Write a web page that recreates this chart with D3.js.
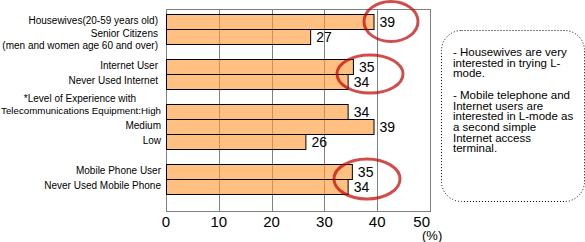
<!DOCTYPE html>
<html>
<head>
<meta charset="utf-8">
<script src="https://cdn.jsdelivr.net/npm/d3@7"></script>
<style>
  body { margin: 0; background: #fff; }
  svg { display: block; font-family: "Liberation Sans", Arial, sans-serif; }
</style>
</head>
<body>
<div class="container"></div>
<script>
"use strict";

// rows of the chart, "" = empty slot between groups
const categories = [
  "Housewives", "Senior", "",
  "Internet User", "Never Used Internet", "",
  "High", "Medium", "Low", "",
  "Mobile Phone User", "Never Used Mobile Phone", ""
];
const categoryLabels = [
  ["Housewives(20-59 years old)"],
  ["Senior Citizens", "(men and women age 60 and over)"],
  [],
  ["Internet User"],
  ["Never Used Internet"],
  [],
  ["Telecommunications Equipment:High"],
  ["Medium"],
  ["Low"],
  [],
  ["Mobile Phone User"],
  ["Never Used Mobile Phone"],
  []
];
const values = [39.3, 27.3, null, 35.4, 34.4, null, 34.4, 39.3, 26.4, null, 35.2, 34.4, null];
const valueLabels = ["39", "27", "", "35", "34", "", "34", "39", "26", "", "35", "34", ""];
const xTicks = [0, 10, 20, 30, 40, 50];
const groupNote = "*Level of Experience with";
const noteLines = [
  "- Housewives are very", "interested in trying L-", "mode.", "",
  "- Mobile telephone and", "Internet users are", "interested in L-mode as",
  "a second simple", "Internet access", "terminal."
];

const makePlot = () => {
  const width = 585, height = 242;
  const plot = { left: 166, right: 430, top: 9.5, bottom: 211.5 };

  const svg = d3.select(".container").append("svg")
    .attr("width", width).attr("height", height);

  const x = d3.scaleLinear().domain([0, 50]).range([plot.left, plot.right]);
  const y = d3.scaleBand().domain(categories.map((d, i) => i)).range([14, 209]);

  // gridlines
  svg.append("g").selectAll("line").data(xTicks.slice(1, -1)).enter().append("line")
    .attr("x1", d => Math.round(x(d)) + 0.5).attr("x2", d => Math.round(x(d)) + 0.5)
    .attr("y1", plot.top).attr("y2", plot.bottom)
    .attr("stroke", "#808080");

  // frame
  svg.append("rect")
    .attr("x", plot.left + 0.5).attr("y", plot.top)
    .attr("width", plot.right - plot.left).attr("height", plot.bottom - plot.top)
    .attr("fill", "none").attr("stroke", "#808080");

  // bars (half-tone orange, grid shows through like the dithered original)
  const rows = categories.map((c, i) => ({ c, i, v: values[i], lab: valueLabels[i] }))
    .filter(d => d.v !== null);

  svg.append("g").selectAll("rect").data(rows).enter().append("rect")
    .attr("x", plot.left + 0.5)
    .attr("y", d => y(d.i) + 0.5)
    .attr("width", d => x(d.v) - x(0))
    .attr("height", y.bandwidth())
    .attr("fill", "#ff9933").attr("fill-opacity", 0.62)
    .attr("stroke", "#000").attr("stroke-width", 1);

  // value labels
  svg.append("g").selectAll("text").data(rows).enter().append("text")
    .attr("x", d => x(d.v) + 6)
    .attr("y", d => y(d.i) + y.bandwidth() / 2 + 1)
    .attr("dy", "0.35em")
    .attr("font-size", 14)
    .text(d => d.lab);

  // x axis labels
  const last = xTicks.length - 1;
  svg.append("g").selectAll("text").data(xTicks).enter().append("text")
    .attr("x", d => x(d))
    .attr("y", 222).attr("dy", "0.35em")
    .attr("text-anchor", (d, i) => i === last ? "end" : "middle")
    .attr("font-size", 15)
    .text(d => d);
  svg.append("text").attr("x", 422).attr("y", 235).attr("dy", "0.35em")
    .attr("font-size", 13).text("(%)");

  // category labels
  const catG = svg.append("g").attr("font-size", 10).attr("text-anchor", "end");
  categoryLabels.forEach((lines, i) => {
    const cy = y(i) + y.bandwidth() / 2;
    const lx = i > 5 ? 161 : 158;
    lines.forEach((ln, j) => {
      const t = catG.append("text")
        .attr("x", lx)
        .attr("y", cy + j * 11.5 - (lines.length > 1 ? 3 : 1))
        .attr("dy", "0.35em")
        .text(ln);
      // shrink if it would run off the left edge
      const w = t.node().getComputedTextLength();
      if (w > lx - 1) t.attr("font-size", 10 * (lx - 1) / w);
    });
  });
  const hi = categories.indexOf("High");
  svg.append("text")
    .attr("x", 80).attr("y", y(hi) + y.bandwidth() / 2 - 13).attr("dy", "0.35em")
    .attr("font-size", 10).attr("text-anchor", "middle")
    .text(groupNote);

  // red circles round the pairs the note talks about
  const ell = [
    { a: "Housewives", b: "Housewives", cx: 391, rx: 27, ry: 20 },
    { a: "Internet User", b: "Never Used Internet", cx: 370, rx: 33, ry: 19 },
    { a: "Mobile Phone User", b: "Never Used Mobile Phone", cx: 367, rx: 33, ry: 20 }
  ];
  svg.append("g").selectAll("ellipse").data(ell).enter().append("ellipse")
    .attr("cx", d => d.cx)
    .attr("cy", d => {
      const ia = categories.indexOf(d.a), ib = categories.indexOf(d.b);
      return (y(ia) + y(ib) + y.bandwidth()) / 2;
    })
    .attr("rx", d => d.rx).attr("ry", d => d.ry)
    .attr("fill", "none").attr("stroke", "#c00000").attr("stroke-opacity", 0.7)
    .attr("stroke-width", 3);

  // note box
  svg.append("rect")
    .attr("x", 441.5).attr("y", 30.5).attr("width", 143).attr("height", 171)
    .attr("rx", 20).attr("ry", 20)
    .attr("fill", "none").attr("stroke", "#000").attr("stroke-dasharray", "1,2");
  svg.append("g").attr("font-size", 11.5).selectAll("text").data(noteLines).enter().append("text")
    .attr("x", 453)
    .attr("y", (d, i) => 52 + i * 10.7)
    .attr("dy", "0.35em")
    .text(d => d);
};

makePlot();
</script>
</body>
</html>
